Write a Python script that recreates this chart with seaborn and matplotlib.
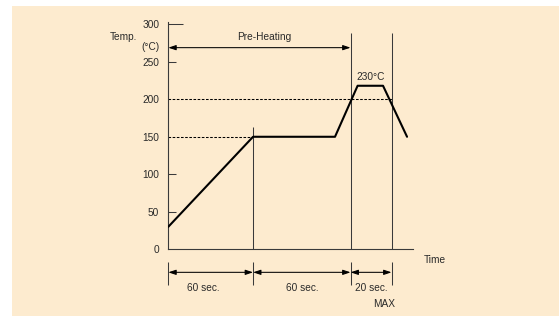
# reflow soldering profile - schematic temperature vs time chart
import numpy as np
import pandas as pd
import matplotlib
matplotlib.use('Agg')
import matplotlib.pyplot as plt
from matplotlib.patches import Rectangle
import seaborn as sns

# profile curve (time units as drawn, temperature in degC)
profile_time = [0, 60, 118, 134, 152, 169]
profile_temp = [30, 150, 150, 218, 218, 150]

# dashed reference levels and where they stop
ref_temps = [150, 200]
ref_ends = [60, 158]

# stage boundaries, with the height their vertical line reaches
boundaries = [60, 129, 158]
boundary_tops = [163, 288, 288]

# dimension segments below the axis
dim_edges = [0, 60, 129, 158]
dim_labels = ['60 sec.', '60 sec.', '20 sec.']
dim_label_x = [25, 95, 143.5]

y_ticks = [0, 50, 100, 150, 200, 250, 300]

cream = '#FDEBCF'
text_col = '#2a2a2a'
line_col = '#3a3a3a'

sns.set_theme(style='white')
plt.rcParams['font.family'] = ['Liberation Sans', 'DejaVu Sans']

fig = plt.figure(figsize=(5.59, 3.16), dpi=100)
fig.patch.set_facecolor('white')
fig.add_artist(Rectangle((12 / 559, 0), 1 - 12 / 559, 310 / 316, transform=fig.transFigure,
                         facecolor=cream, edgecolor='none', zorder=-10))

ax = fig.add_axes([168.3 / 559, 66.7 / 316, 244.4 / 559, 227.3 / 316])
ax.patch.set_alpha(0)

df = pd.DataFrame({'time': profile_time, 'temp': profile_temp})
sns.lineplot(data=df, x='time', y='temp', ax=ax, color='black', linewidth=1.5,
             sort=False, zorder=5)

# dashed levels
for t, e in zip(ref_temps, ref_ends):
    ax.plot([0, e], [t, t], color='black', linestyle=(0, (2.5, 1.5)), linewidth=0.75)

# vertical stage lines
ax.vlines(boundaries, 0, boundary_tops, color=line_col, linewidth=0.75)

ax.set_xlim(0, 173)
ax.set_ylim(0, 303)
ax.set_xlabel('')
ax.set_ylabel('')
ax.set_xticks([])
ax.set_yticks(y_ticks)
ax.set_yticklabels([str(v) for v in y_ticks])
ax.tick_params(axis='y', direction='in', length=6, width=0.75, color=line_col,
               pad=6.5, labelsize=7.3, labelcolor=text_col, left=True)
ticks = ax.yaxis.get_major_ticks()
for i, v in enumerate(y_ticks):
    if v in (0, 150, 200):
        ticks[i].tick1line.set_visible(False)
    if v == 300:
        ticks[i].tick1line.set_markersize(10.5)

for s in ['top', 'right']:
    ax.spines[s].set_visible(False)
for s in ['left', 'bottom']:
    ax.spines[s].set_color(line_col)
    ax.spines[s].set_linewidth(0.8)

arrow_props = dict(arrowstyle='<|-|>,head_length=0.45,head_width=0.15', color='black',
                   linewidth=0.75, shrinkA=0, shrinkB=0, mutation_scale=10)

# pre-heating arrow
ax.annotate('', xy=(0, 268.8), xytext=(boundaries[1], 268.8), arrowprops=arrow_props,
            annotation_clip=False)
ax.text(68, 283.5, 'Pre-Heating', ha='center', va='center', fontsize=7.3, color=text_col)
ax.text(143.5, 230, '230°C', ha='center', va='center', fontsize=7.3, color=text_col)

# axis titles
ax.text(-22.4, 282.7, 'Temp.', ha='right', va='center', fontsize=7.3, color=text_col)
ax.text(-5.9, 269.7, '(°C)', ha='right', va='center', fontsize=7.3, color=text_col)
ax.text(180.5, -14.4, 'Time', ha='left', va='center', fontsize=7.3, color=text_col,
        clip_on=False)

# dimension lines under the axis
dims = ax.vlines(dim_edges, -16.5, -47.6, color=line_col, linewidth=0.75)
dims.set_clip_on(False)
for a, b, lab, lx in zip(dim_edges[:-1], dim_edges[1:], dim_labels, dim_label_x):
    ax.annotate('', xy=(a, -30.7), xytext=(b, -30.7), arrowprops=arrow_props,
                annotation_clip=False)
    ax.text(lx, -51.7, lab, ha='center', va='center', fontsize=7.3, color=text_col,
            clip_on=False)
ax.text(153, -73, 'MAX', ha='center', va='center', fontsize=7.3, color=text_col,
        clip_on=False)

fig.savefig('out.png', dpi=100, facecolor=fig.get_facecolor())
